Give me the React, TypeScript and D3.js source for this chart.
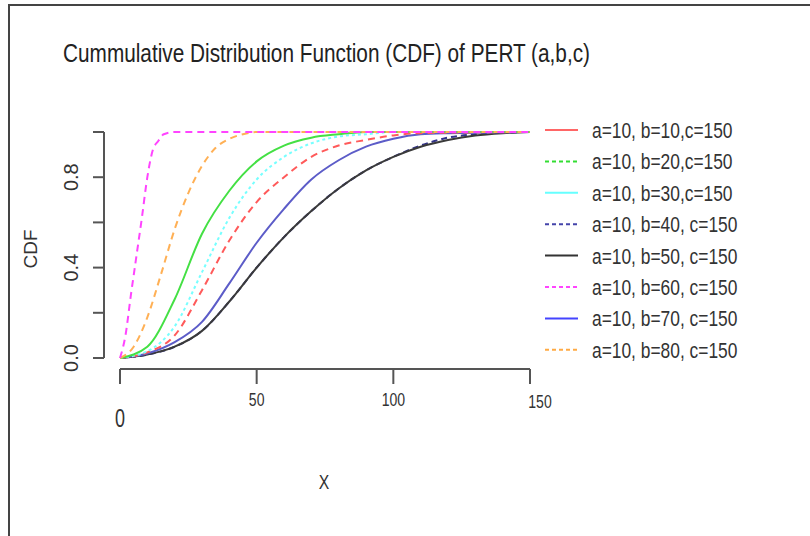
import React from 'react';
import * as d3 from 'd3';

// values (x in 0..150, CDF in 0..1)
const magentaX = [0, 2, 4, 6, 8, 10, 12, 14, 16, 20, 30, 150];
const magentaY = [0, 0.1, 0.28, 0.45, 0.62, 0.8, 0.92, 0.96, 0.99, 1, 1, 1];
const orangeX = [0, 5, 10, 15, 20, 25, 30, 35, 40, 45, 50, 150];
const orangeY = [0, 0.05, 0.18, 0.37, 0.57, 0.73, 0.85, 0.93, 0.97, 0.99, 1, 1];
const greenX = [0, 10, 20, 30, 40, 50, 60, 70, 80, 90, 150];
const greenY = [0, 0.05, 0.26, 0.55, 0.74, 0.87, 0.94, 0.975, 0.99, 1, 1];
const cyanX = [0, 10, 20, 30, 40, 50, 60, 70, 80, 90, 100, 150];
const cyanY = [0, 0.03, 0.14, 0.38, 0.62, 0.79, 0.89, 0.95, 0.98, 0.99, 1, 1];
const redX = [0, 10, 20, 30, 40, 50, 60, 70, 80, 90, 100, 110, 150];
const redY = [0, 0.025, 0.1, 0.3, 0.52, 0.69, 0.8, 0.89, 0.94, 0.965, 0.985, 0.995, 1];
const navyX = [0, 10, 20, 30, 40, 50, 60, 70, 80, 90, 100, 110, 120, 130, 140, 150];
const navyY = [0, 0.015, 0.05, 0.12, 0.25, 0.4, 0.535, 0.65, 0.75, 0.83, 0.89, 0.94, 0.975, 0.99, 0.998, 1];
const blueX = [0, 10, 20, 30, 40, 50, 60, 70, 80, 90, 100, 110, 120, 150];
const blueY = [0, 0.02, 0.07, 0.16, 0.33, 0.51, 0.66, 0.79, 0.875, 0.935, 0.97, 0.99, 0.995, 1];
const blackX = [0, 10, 20, 30, 40, 50, 60, 70, 80, 90, 100, 110, 120, 130, 140, 150];
const blackY = [0, 0.015, 0.05, 0.12, 0.25, 0.4, 0.535, 0.65, 0.75, 0.83, 0.89, 0.935, 0.965, 0.985, 0.995, 1];

const legendLabels = [
  'a=10, b=10,c=150',
  'a=10, b=20,c=150',
  'a=10, b=30,c=150',
  'a=10, b=40, c=150',
  'a=10, b=50, c=150',
  'a=10, b=60, c=150',
  'a=10, b=70, c=150',
  'a=10, b=80, c=150',
];
const legendColors = ['#ff6666', '#33dd33', '#66ffff', '#4444aa', '#333333', '#ff44ff', '#4444ff', '#ffaa44'];
const legendDash = ['none', '4,3', 'none', '4,3', 'none', '4,3', 'none', '4,3'];

const xTicks = [0, 50, 100, 150];
const yTicks = [0, 0.2, 0.4, 0.6, 0.8, 1];
const yTickLabels = ['0.0', '', '0.4', '', '0.8', ''];

const curves = [
  { x: navyX, y: navyY, color: '#333388', dash: '6,4' },
  { x: blackX, y: blackY, color: '#3a3a3a', dash: 'none' },
  { x: blueX, y: blueY, color: '#5c5cc8', dash: 'none' },
  { x: redX, y: redY, color: '#ff5a5a', dash: '7,5' },
  { x: cyanX, y: cyanY, color: '#77ffff', dash: '3,3' },
  { x: greenX, y: greenY, color: '#44e044', dash: 'none' },
  { x: orangeX, y: orangeY, color: '#ffb055', dash: '7,5' },
  { x: magentaX, y: magentaY, color: '#ff44ff', dash: '7,5' },
];

const font = "'Liberation Sans', Arial, sans-serif";
const axisColor = '#555';

export default function App() {
  const width = 810;
  const height = 536;
  const x = d3.scaleLinear().domain([0, 150]).range([120, 530]);
  const y = d3.scaleLinear().domain([0, 1]).range([358, 132]);

  const line = d3
    .line<number[]>()
    .x((d) => d[0])
    .y((d) => d[1])
    .curve(d3.curveMonotoneX);

  // the "0" label sits lower and larger in the original
  const xLabelOffsets = [
    { dx: 0, dy: 58, size: 25, sx: 0.72 },
    { dx: 0, dy: 37, size: 18, sx: 0.78 },
    { dx: 0, dy: 37, size: 18, sx: 0.78 },
    { dx: 10, dy: 39, size: 18, sx: 0.78 },
  ];

  return (
    <svg width={width} height={height} style={{ position: 'absolute', left: 0, top: 0, background: '#fff' }}>
      {/* frame */}
      <path d={`M9,${height} V5 H${width}`} fill="none" stroke="#444" strokeWidth={2} />

      <text x={63} y={62} fontFamily={font} fontSize={25} fill="#222" textLength={527} lengthAdjust="spacingAndGlyphs">
        Cummulative Distribution Function (CDF) of PERT  (a,b,c)
      </text>

      {/* y axis */}
      <g>
        <line x1={104} x2={104} y1={y(0)} y2={y(1)} stroke={axisColor} strokeWidth={2} />
        {yTicks.map((t, i) => (
          <g key={i}>
            <line x1={93} x2={104} y1={y(t)} y2={y(t)} stroke={axisColor} strokeWidth={2} />
            {yTickLabels[i] && (
              <text
                transform={`translate(78,${y(t)}) rotate(-90)`}
                textAnchor="middle"
                fontFamily={font}
                fontSize={20}
                fill="#333"
              >
                {yTickLabels[i]}
              </text>
            )}
          </g>
        ))}
        <text transform="translate(37,249) rotate(-90)" textAnchor="middle" fontFamily={font} fontSize={19} fill="#333">
          CDF
        </text>
      </g>

      {/* x axis */}
      <g>
        <line x1={x(0)} x2={x(150)} y1={369} y2={369} stroke={axisColor} strokeWidth={2} />
        {xTicks.map((t, i) => (
          <g key={t}>
            <line x1={x(t)} x2={x(t)} y1={369} y2={384} stroke={axisColor} strokeWidth={2} />
            <text
              transform={`translate(${x(t) + xLabelOffsets[i].dx},${369 + xLabelOffsets[i].dy}) scale(${xLabelOffsets[i].sx},1)`}
              textAnchor="middle"
              fontFamily={font}
              fontSize={xLabelOffsets[i].size}
              fill="#333"
            >
              {t}
            </text>
          </g>
        ))}
        <text transform="translate(324,489) scale(0.75,1)" textAnchor="middle" fontFamily={font} fontSize={21} fill="#333">
          X
        </text>
      </g>

      {/* curves */}
      <g fill="none">
        {curves.map((c, i) => (
          <path
            key={i}
            d={line(c.x.map((v, j) => [x(v), y(c.y[j])])) || ''}
            stroke={c.color}
            strokeWidth={2}
            strokeDasharray={c.dash}
          />
        ))}
      </g>

      {/* legend */}
      <g>
        {legendLabels.map((lab, i) => {
          const ly = 130 + i * 31.4;
          return (
            <g key={lab}>
              <line x1={545} x2={578} y1={ly} y2={ly} stroke={legendColors[i]} strokeWidth={2} strokeDasharray={legendDash[i]} />
              <text transform={`translate(592,${ly + 8}) scale(0.79,1)`} fontFamily={font} fontSize={22} fill="#333">
                {lab}
              </text>
            </g>
          );
        })}
      </g>
    </svg>
  );
}
